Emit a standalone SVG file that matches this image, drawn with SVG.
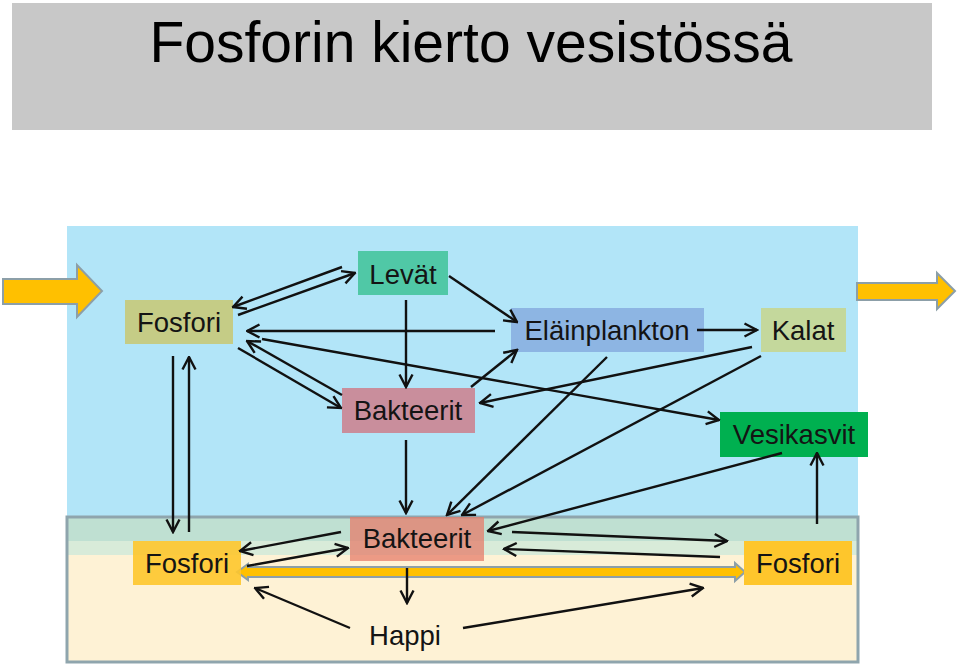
<svg xmlns="http://www.w3.org/2000/svg" width="960" height="668" viewBox="0 0 960 668">
<style>
.lbl{font-family:"Liberation Sans",Arial,sans-serif;font-size:27.5px;fill:#141414;text-anchor:middle}
.c{stroke:#111;stroke-width:2.4;fill:none}
.a{marker-end:url(#ah)}
.big{fill:#ffc000;stroke:#8c9fa8;stroke-width:2}
</style>
<defs>
<marker id="ah" markerUnits="userSpaceOnUse" viewBox="0 0 16 16" refX="14.5" refY="8" markerWidth="16" markerHeight="16" orient="auto">
<path d="M2,1.5 L14.5,8 L2,14.5" fill="none" stroke="#111" stroke-width="2.4"/>
</marker>
<linearGradient id="sed" x1="0" y1="0" x2="0" y2="1">
<stop offset="0" stop-color="#bfe0d2"/>
<stop offset="0.166" stop-color="#bfe0d2"/>
<stop offset="0.166" stop-color="#d8ebd9"/>
<stop offset="0.262" stop-color="#d8ebd9"/>
<stop offset="0.262" stop-color="#fef2d5"/>
<stop offset="1" stop-color="#fef2d5"/>
</linearGradient>
</defs>
<rect width="960" height="668" fill="#fff"/>
<g id="title">
<rect x="12" y="3" width="920" height="127" fill="#c8c8c8"/>
<text x="471" y="62" font-family="'Liberation Sans',Arial,sans-serif" font-size="57" fill="#000" text-anchor="middle">Fosforin kierto vesistössä</text>
</g>
<g id="water">
<rect x="67" y="226" width="791" height="292" fill="#b2e5f8"/>
</g>
<g id="sediment">
<rect x="67" y="517" width="791" height="145" fill="url(#sed)" stroke="#8fa5ad" stroke-width="3"/>
</g>
<g id="flows">
<polygon class="big" points="3,279 77,279 77,265 102,291 77,317 77,304 3,304"/>
<polygon class="big" points="857,283 937,283 937,273 955,291 937,309 937,300 857,300"/>
<polygon class="big" points="237,572 248,564 248,567 735,567 735,563 745,572 735,581 735,577 248,577 248,580"/>
</g>
<g id="n-fosfori-top">
<rect x="125" y="300" width="108" height="44" fill="#c5cc86"/>
<text class="lbl" x="179" y="332">Fosfori</text>
</g>
<g id="n-levat">
<rect x="358" y="251" width="90" height="44" fill="#50c8a6"/>
<text class="lbl" x="403" y="284">Levät</text>
</g>
<g id="n-elainplankton">
<rect x="511" y="308" width="193" height="44" fill="#8db5e3"/>
<text class="lbl" x="607" y="340">Eläinplankton</text>
</g>
<g id="n-kalat">
<rect x="761" y="308" width="85" height="44" fill="#c4d89c"/>
<text class="lbl" x="803" y="340">Kalat</text>
</g>
<g id="n-bakteerit-top">
<rect x="342" y="388" width="133" height="45" fill="#c98e9c"/>
<text class="lbl" x="408" y="420">Bakteerit</text>
</g>
<g id="n-vesikasvit">
<rect x="720" y="412" width="148" height="45" fill="#00b050"/>
<text class="lbl" x="794" y="444">Vesikasvit</text>
</g>
<g id="n-bakteerit-bottom">
<rect x="350" y="517" width="134" height="44" fill="#e67c6a" fill-opacity="0.75"/>
<text class="lbl" x="417" y="548">Bakteerit</text>
</g>
<g id="n-fosfori-left">
<rect x="133" y="541" width="108" height="44" fill="#fec62c" fill-opacity="0.9"/>
<text class="lbl" x="187" y="573">Fosfori</text>
</g>
<g id="n-fosfori-right">
<rect x="744" y="541" width="108" height="44" fill="#fec62c"/>
<text class="lbl" x="798" y="573">Fosfori</text>
</g>
<g id="n-happi">
<text class="lbl" x="405" y="645">Happi</text>
</g>
<g id="connectors">
<line class="c a" x1="342" y1="267" x2="233" y2="307"/>
<line class="c a" x1="238" y1="315" x2="355" y2="273"/>
<line class="c a" x1="449" y1="276" x2="517" y2="322"/>
<line class="c a" x1="495" y1="331" x2="247" y2="331"/>
<line class="c a" x1="406" y1="300" x2="406" y2="387"/>
<line class="c a" x1="342" y1="395" x2="247" y2="341"/>
<line class="c a" x1="238" y1="348" x2="341" y2="408"/>
<line class="c a" x1="262" y1="339" x2="719" y2="420"/>
<line class="c a" x1="471" y1="387" x2="517" y2="350"/>
<line class="c a" x1="752" y1="347" x2="480" y2="403"/>
<line class="c a" x1="607" y1="357" x2="447" y2="515"/>
<line class="c a" x1="761" y1="356" x2="462" y2="515"/>
<line class="c a" x1="697" y1="330" x2="757" y2="330"/>
<line class="c a" x1="406" y1="440" x2="406" y2="513"/>
<line class="c a" x1="173" y1="356" x2="173" y2="532"/>
<line class="c a" x1="189" y1="532" x2="189" y2="357"/>
<line class="c a" x1="817" y1="524" x2="817" y2="453"/>
<line class="c a" x1="782" y1="453" x2="488" y2="531"/>
<line class="c a" x1="512" y1="532" x2="727" y2="541"/>
<line class="c a" x1="720" y1="557" x2="504" y2="549"/>
<line class="c a" x1="341" y1="532" x2="240" y2="551"/>
<line class="c a" x1="247" y1="566" x2="348" y2="548"/>
<line class="c a" x1="407" y1="568" x2="407" y2="603"/>
<line class="c a" x1="350" y1="628" x2="255" y2="588"/>
<line class="c a" x1="463" y1="628" x2="703" y2="588"/>
</g>
</svg>
